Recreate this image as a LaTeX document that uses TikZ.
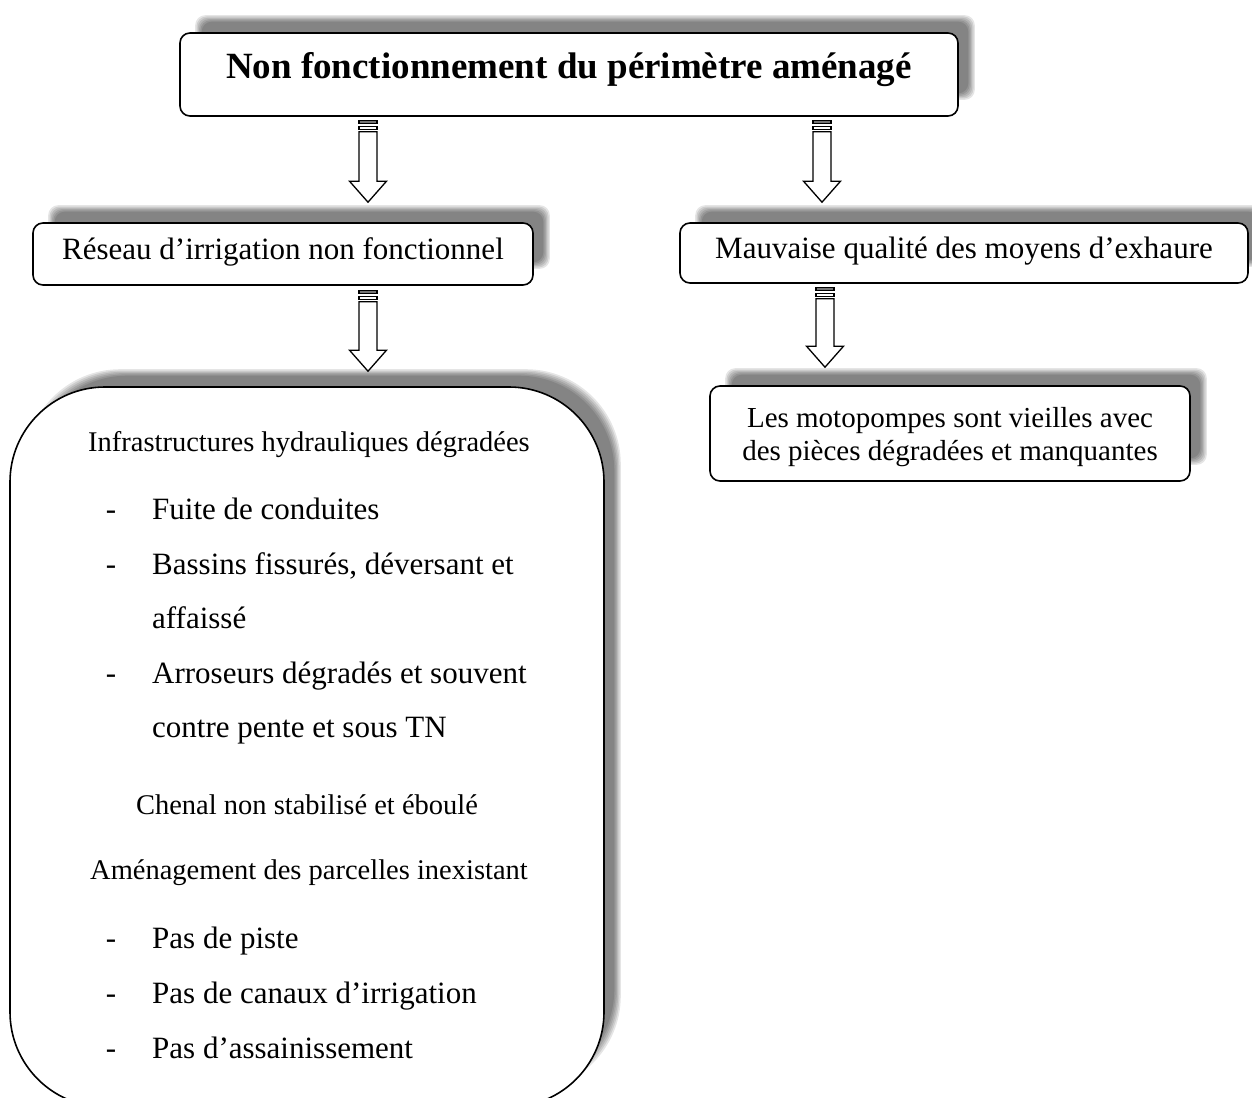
\documentclass[tikz,border=0pt]{standalone}
\usepackage{fontspec}
\setmainfont{Liberation Serif}
\usetikzlibrary{calc,backgrounds}
\tikzset{
  box/.style={draw=black, line width=1.6pt, fill=white, rounded corners=#1, inner sep=0pt, align=center},
  box/.default=10pt,
  mainfont/.style={font=\fontsize{31}{37}\selectfont},
  smallfont/.style={font=\fontsize{28.5}{34}\selectfont},
  item/.style={mainfont, inner sep=0pt, anchor=base west},
  dashmark/.style={mainfont, inner sep=0pt, anchor=base},
  centred/.style={smallfont, inner sep=0pt, anchor=base},
  blk/.style={draw=black, line width=1.3pt, fill=white, line join=miter},
}
\newcommand{\boxshadow}[2]{%
  \foreach \i in {0,1,...,5}{%
    \fill[black, opacity=0.1, rounded corners=#2]
      ($(#1.south west)+(16+1.3*\i,-17-1.3*\i)$) rectangle ($(#1.north east)+(16-1.3*\i,-17+1.3*\i)$);
  }}
\newcommand{\blockarrow}[2]{%
  \draw[blk, fill=black!55] let \p1=(#1) in (\x1-9pt,\y1) rectangle (\x1+9pt,\y1-3pt);
  \draw[blk] let \p1=(#1) in (\x1-9pt,\y1-5.5pt) rectangle (\x1+9pt,\y1-9pt);
  \draw[blk] let \p1=(#1), \p2=(#2) in (\x1-9pt,\y1-11pt) -- (\x1+9pt,\y1-11pt) -- (\x1+9pt,\y2+21pt) -- (\x1+18.5pt,\y2+21pt) -- (\x1,\y2) -- (\x1-18.5pt,\y2+21pt) -- (\x1-9pt,\y2+21pt) -- cycle;
}
\begin{document}
\begin{tikzpicture}[x=1pt,y=-1pt]
\useasboundingbox (0,0) rectangle (1252,1097);

% boxes
\node[box, minimum width=778, minimum height=83, text height=26, text depth=17, font={\fontsize{37}{44}\selectfont\bfseries}] (top) at (569,74.5) {Non fonctionnement du périmètre aménagé};
\node[box, minimum width=500, minimum height=62, text height=25, text depth=15, mainfont] (rl) at (283,254) {Réseau d’irrigation non fonctionnel};
\node[box, minimum width=568, minimum height=60, text height=25, text depth=15, mainfont] (rr) at (964,253) {Mauvaise qualité des moyens d’exhaure};
\node[box=95pt, minimum width=594, minimum height=720] (big) at (307,747) {};
\node[box, minimum width=480, minimum height=95] (mp) at (950,433.5) {};
\begin{scope}
  \clip (712,388) rectangle (1188,466);
  \node[inner sep=0pt, anchor=base, font={\fontsize{29}{35}\selectfont}] (mp1) at (950,427) {Les motopompes sont vieilles avec};
  \node[inner sep=0pt, anchor=base, font={\fontsize{29}{35}\selectfont}] (mp2) at (950,460) {des pièces dégradées et manquantes};
\end{scope}

% shadows
\begin{pgfonlayer}{background}
  \fill[white] (0,0) rectangle (1252,1097);
  \boxshadow{top}{10pt}
  \boxshadow{rl}{10pt}
  \boxshadow{rr}{10pt}
  \boxshadow{big}{95pt}
  \boxshadow{mp}{10pt}
\end{pgfonlayer}

% text in the big box
\node[centred] (t1) at (309,451) {Infrastructures hydrauliques dégradées};
\node[dashmark] (d1) at (111,519) {-};
\node[item] (i1) at (152,519) {Fuite de conduites};
\node[dashmark] (d2) at (111,574) {-};
\node[item] (i2) at (152,574) {Bassins fissurés, déversant et};
\node[item] (i2b) at (152,628) {affaissé};
\node[dashmark] (d3) at (111,683) {-};
\node[item] (i3) at (152,683) {Arroseurs dégradés et souvent};
\node[item] (i3b) at (152,737) {contre pente et sous TN};
\node[centred] (t2) at (307,814) {Chenal non stabilisé et éboulé};
\node[centred] (t3) at (309,879) {Aménagement des parcelles inexistant};
\node[dashmark] (d4) at (111,948) {-};
\node[item] (i4) at (152,948) {Pas de piste};
\node[dashmark] (d5) at (111,1003) {-};
\node[item] (i5) at (152,1003) {Pas de canaux d’irrigation};
\node[dashmark] (d6) at (111,1058) {-};
\node[item] (i6) at (152,1058) {Pas d’assainissement};

% arrows
\coordinate (xL) at (368,0);
\coordinate (xR) at (822,0);
\coordinate (xR2) at (825,0);
\coordinate (a1s) at ($(top.south -| xL)+(0,4)$);
\coordinate (a1e) at ($(rl.north -| xL)+(0,-20)$);
\coordinate (a2s) at ($(top.south -| xR)+(0,4)$);
\coordinate (a2e) at ($(rr.north -| xR)+(0,-20)$);
\coordinate (a3s) at ($(rl.south -| xL)+(0,5)$);
\coordinate (a3e) at ($(big.north -| xL)+(0,-15)$);
\coordinate (a4s) at ($(rr.south -| xR2)+(0,4)$);
\coordinate (a4e) at ($(mp.north -| xR2)+(0,-18)$);
\blockarrow{a1s}{a1e}
\blockarrow{a2s}{a2e}
\blockarrow{a3s}{a3e}
\blockarrow{a4s}{a4e}
\end{tikzpicture}
\end{document}
